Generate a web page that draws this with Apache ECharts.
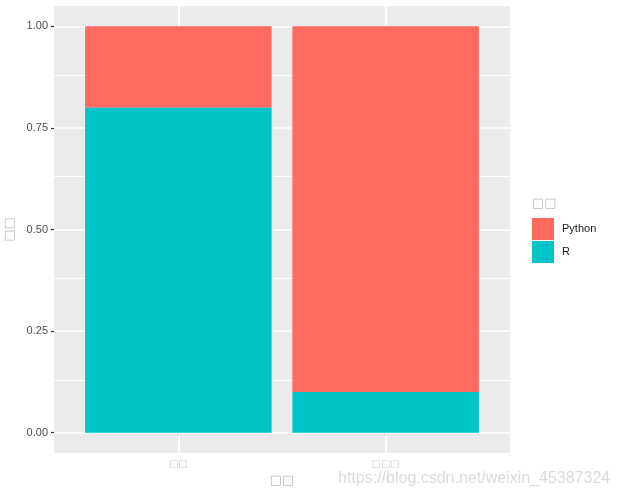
<!DOCTYPE html>
<html>
<head>
<meta charset="utf-8">
<script src="https://cdn.jsdelivr.net/npm/echarts@6/dist/echarts.min.js"></script>
<style>
html,body{margin:0;padding:0;background:#fff;}
#c{width:619px;height:498px;}
</style>
</head>
<body>
<div id="c"></div>
<script>
// ---- data ----
const categories = ['□□', '□□□'];
const seriesNames = ['R', 'Python'];
const rValues = [0.8, 0.1];
const pythonValues = [0.2, 0.9];
const yTicks = [0, 0.25, 0.5, 0.75, 1];
const yMinor = [0.125, 0.375, 0.625, 0.875];
const xTitle = '□□';
const yTitle = '□□';
const legendTitle = '□□';
const watermark = 'https://blog.csdn.net/weixin_45387324';

// ---- layout ----
const gridLeft = 54, gridTop = 6, gridW = 456, gridH = 447;
const xMin = 0.4, xMax = categories.length + 0.6;
const unit = gridW / (xMax - xMin);
const barW = 0.9 * unit;
const xPos = categories.map((c, i) => i + 1);

const FONT = '"Liberation Sans", Arial, sans-serif';

const chart = echarts.init(document.getElementById('c'));
const gridLines = [];
yTicks.forEach(v => gridLines.push({yAxis: v, lineStyle: {width: 1.6}}));
yMinor.forEach(v => gridLines.push({yAxis: v, lineStyle: {width: 0.9}}));
xPos.forEach(v => gridLines.push({xAxis: v, lineStyle: {width: 1.6}}));

chart.setOption({
  animation: false,
  textStyle: {fontFamily: FONT},
  grid: {left: gridLeft, top: gridTop, width: gridW, height: gridH, show: true,
         backgroundColor: '#EBEBEB', borderWidth: 0, containLabel: false, outerBoundsMode: 'none'},
  xAxis: {
    type: 'value', min: xMin, max: xMax,
    name: xTitle, nameLocation: 'middle', nameGap: 20,
    nameTextStyle: {color: '#bdbdbd', fontSize: 13, fontFamily: 'DejaVu Sans'},
    axisLine: {show: false},
    axisTick: {show: true, length: 3, customValues: xPos, lineStyle: {color: '#333', width: 1.2}},
    axisLabel: {customValues: xPos, formatter: v => categories[Math.round(v) - 1] || '',
                color: '#cccccc', fontSize: 10, margin: 6, fontFamily: 'DejaVu Sans'},
    splitLine: {show: false}
  },
  yAxis: {
    type: 'value', min: -0.05, max: 1.05,
    name: yTitle, nameLocation: 'middle', nameGap: 33, nameRotate: 90,
    nameTextStyle: {color: '#bdbdbd', fontSize: 13, fontFamily: 'DejaVu Sans'},
    axisLine: {show: false},
    axisTick: {show: true, length: 3, customValues: yTicks, lineStyle: {color: '#333', width: 1.2}},
    axisLabel: {customValues: yTicks, formatter: v => v.toFixed(2), color: '#4d4d4d', fontSize: 11, margin: 6},
    splitLine: {show: false}
  },
  legend: {
    orient: 'vertical', left: 532, top: 218, padding: 0,
    data: ['Python', 'R'],
    icon: 'rect', itemWidth: 22, itemHeight: 22, itemGap: 1,
    textStyle: {color: '#1a1a1a', fontSize: 11, padding: [0, 0, 0, 3]}
  },
  graphic: [
    {type: 'text', left: 532, top: 197, style: {text: legendTitle, fill: '#bdbdbd', font: '13px "DejaVu Sans"'}},
    {type: 'text', left: 338, top: 471, style: {text: watermark, fill: 'rgba(215,215,215,0.9)', font: '16px ' + FONT}}
  ],
  series: [
    {type: 'line', data: [], z: 1, silent: true,
     markLine: {silent: true, z: 1, symbol: 'none', label: {show: false},
                lineStyle: {color: '#ffffff', type: 'solid'}, data: gridLines}},
    {name: 'R', type: 'bar', stack: 'a', z: 3, barWidth: barW,
     itemStyle: {color: '#00C4C8'}, encode: {x: 1, y: 0},
     data: xPos.map((x, i) => [rValues[i], x])},
    {name: 'Python', type: 'bar', stack: 'a', z: 3, barWidth: barW,
     itemStyle: {color: '#FF6A60'}, encode: {x: 1, y: 0},
     data: xPos.map((x, i) => [pythonValues[i], x])}
  ]
});
</script>
</body>
</html>
